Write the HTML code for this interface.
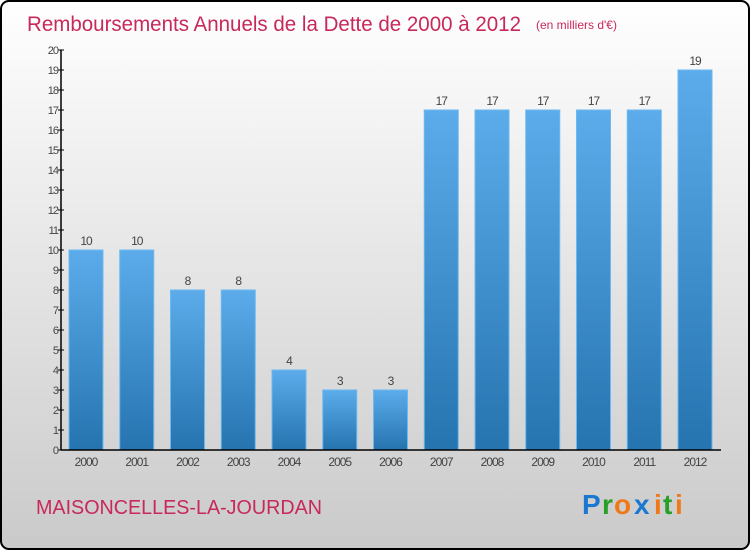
<!DOCTYPE html>
<html><head><meta charset="utf-8"><style>
body{margin:0;width:750px;height:550px;overflow:hidden;font-family:"Liberation Sans",sans-serif}
</style></head><body>
<svg width="750" height="550" xmlns="http://www.w3.org/2000/svg">
<defs>
<linearGradient id="bg" x1="0" y1="0" x2="0" y2="1"><stop offset="0" stop-color="#ffffff"/><stop offset="1" stop-color="#cacaca"/></linearGradient>
<linearGradient id="bar" x1="0" y1="0" x2="0" y2="1"><stop offset="0" stop-color="#5caceb"/><stop offset="1" stop-color="#2574b0"/></linearGradient>
</defs>
<rect x="1" y="1" width="748" height="548" rx="8" fill="url(#bg)" stroke="#000" stroke-width="2"/>
<text x="27" y="31" font-size="21" fill="#c8285a" textLength="494" lengthAdjust="spacingAndGlyphs">Remboursements Annuels de la Dette de 2000 à 2012</text>
<text x="536" y="29" font-size="12" fill="#c8285a">(en milliers d'€)</text>
<g id="yaxis"></g>
<g id="bars"></g>
<g id="xaxis"></g>
<text x="36" y="514" font-size="20" fill="#c8285a" textLength="286" lengthAdjust="spacingAndGlyphs">MAISONCELLES-LA-JOURDAN</text>
<g font-size="28" font-weight="bold">
<text x="582" y="514" fill="#1a78d0">P</text><text x="602" y="514" fill="#28a028">r</text><text x="614" y="514" fill="#f07818">o</text><text x="634" y="514" fill="#1a78d0">x</text><text x="654" y="514" fill="#f07818">i</text><text x="663" y="514" fill="#28a028">t</text><text x="675" y="514" fill="#f07818">i</text>
</g>
</svg>
<script>
const years=["2000","2001","2002","2003","2004","2005","2006","2007","2008","2009","2010","2011","2012"];
const values=[10,10,8,8,4,3,3,17,17,17,17,17,19];
const yTicks=[0,1,2,3,4,5,6,7,8,9,10,11,12,13,14,15,16,17,18,19,20];
const NS="http://www.w3.org/2000/svg";
const y0=450,yTop=50,yMax=20,xL=61,xR=721;
const yS=v=>y0-(v/yMax)*(y0-yTop);
const step=50.75,first=86,bw=34;
const xS=i=>first+i*step;
function mk(t,a,p){const e=document.createElementNS(NS,t);for(const k in a)e.setAttribute(k,a[k]);p.appendChild(e);return e;}
const ya=document.getElementById('yaxis'),ba=document.getElementById('bars'),xa=document.getElementById('xaxis');
const al=mk('line',{x1:xL,y1:yTop,x2:xL,y2:y0,stroke:'#000','stroke-width':1.5},ya);


yTicks.forEach(v=>{
 const tk=mk('line',{x1:xL-3,x2:xL+3,y1:yS(v),y2:yS(v),stroke:'#000'},ya);
 
 
 const t=mk('text',{x:xL-3,y:yS(v)+4,'font-size':11,fill:'#444','text-anchor':'end','letter-spacing':'-1'},ya);
 t.textContent=v;
 
 
});
values.forEach((v,i)=>{
 const cx=xS(i);
 const r=mk('rect',{x:cx-bw/2,y:yS(v),width:bw,height:y0-yS(v),fill:'url(#bar)',stroke:'#6cb8f0','stroke-width':1},ba);
 
 
 const t=mk('text',{x:cx,y:yS(v)-5,'font-size':12,fill:'#444','text-anchor':'middle','letter-spacing':'-1'},ba);
 t.textContent=v;
 
 
 const xl=mk('text',{x:cx,y:466,'font-size':12,fill:'#444','text-anchor':'middle','letter-spacing':'-1'},xa);
 xl.textContent=years[i];
 
 
});
const xl=mk('line',{x1:xL,y1:y0,x2:xR,y2:y0,stroke:'#000','stroke-width':1.5},xa);


</script>
</body></html>
